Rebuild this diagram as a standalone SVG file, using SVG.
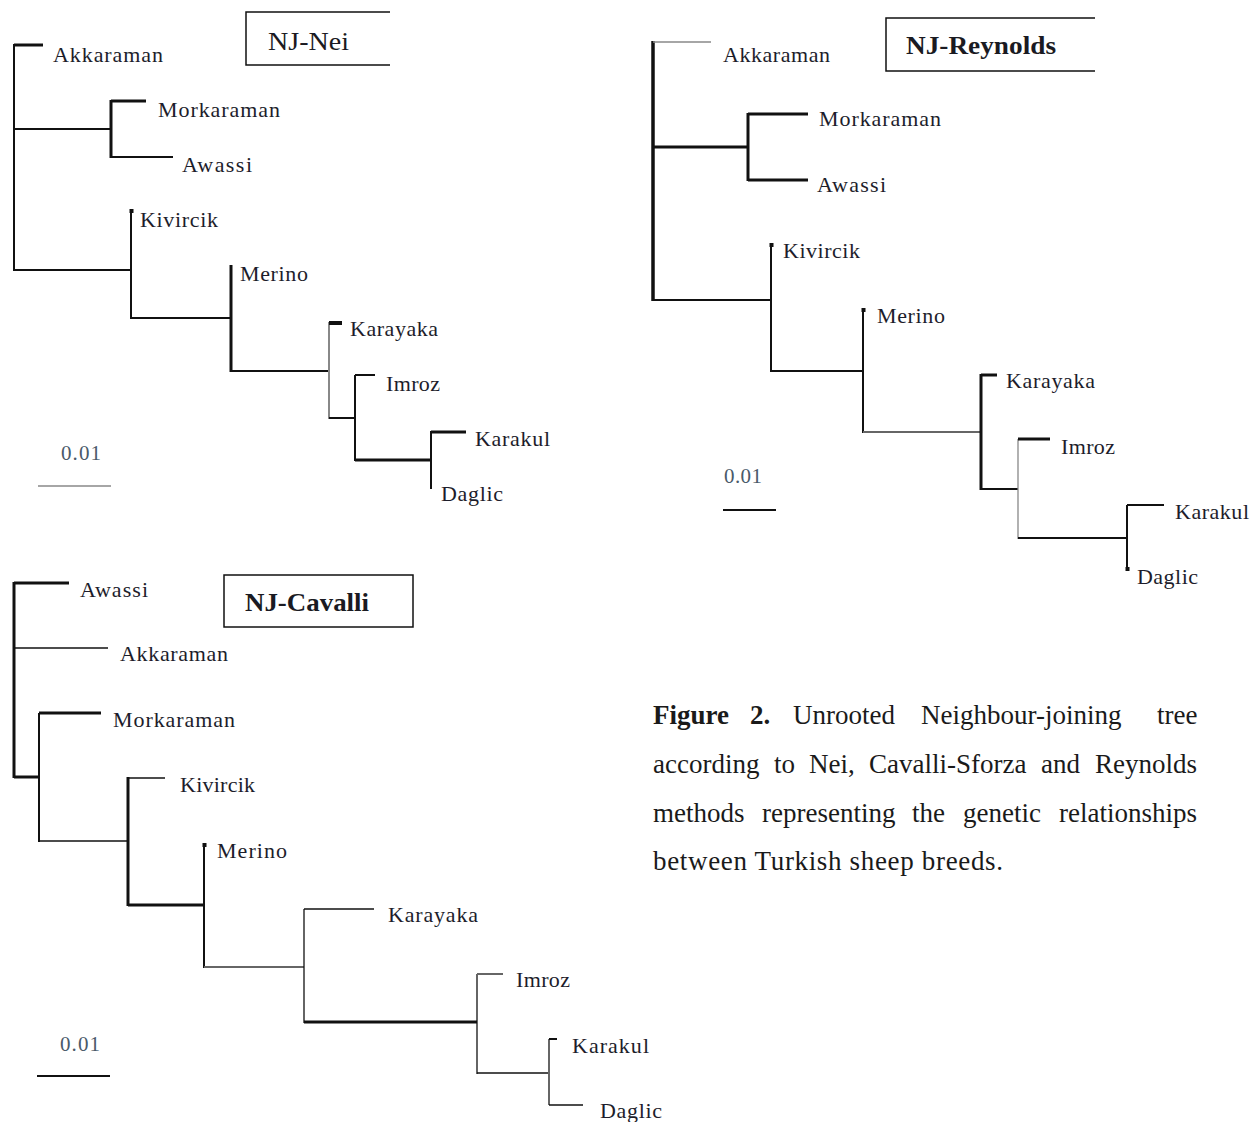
<svg xmlns="http://www.w3.org/2000/svg" width="1258" height="1122" viewBox="0 0 1258 1122">
<style>
.lbl{font-family:"Liberation Serif","Times New Roman",serif;font-size:22px;fill:#1d1d2b;}
.sc{font-family:"Liberation Serif","Times New Roman",serif;font-size:21px;fill:#4a5a6a;}
.ttl{font-family:"Liberation Serif","Times New Roman",serif;font-size:26px;fill:#1a1a22;}
.cap{font-family:"Liberation Serif","Times New Roman",serif;font-size:27px;fill:#1a1a1a;}
.box{fill:none;stroke:#111;stroke-width:1.5;}
.k{fill:none;stroke:#111;stroke-linecap:butt;}
.w1{stroke-width:1.3;}
.w2{stroke-width:2;}
.w3{stroke-width:3;}
.g{stroke:#888;}
.g2{stroke:#666;}
.dot{fill:#111;}
</style>
<rect width="1258" height="1122" fill="#fff"/>

<!-- ================= NJ-Nei ================= -->
<g id="connectors-nei">
<path class="k w2" d="M14,44 V271"/>
<path class="k w3" d="M14,45 H43"/>
<path class="k w2" d="M14,129 H111"/>
<path class="k w3" d="M111,100 V158"/>
<path class="k w3" d="M111,101 H146"/>
<path class="k w2" d="M111,157 H173"/>
<path class="k w2" d="M14,270 H131"/>
<path class="k w2" d="M131,211 V319"/>
<path class="k w2" d="M131,318 H231"/>
<path class="k w3" d="M231,265 V372"/>
<path class="k w2" d="M231,371 H329"/>
<path class="k w2 g" d="M329,322 V419"/>
<path class="k" d="M329,323 H342" style="stroke-width:4"/>
<path class="k w2" d="M329,418 H355"/>
<path class="k w2" d="M355,375 V461"/>
<path class="k w2" d="M355,375 H375"/>
<path class="k w3" d="M355,460 H431"/>
<path class="k w2" d="M431,431 V489"/>
<path class="k w3" d="M431,432 H466"/>
<path class="k w1 g" d="M38,486 H111"/>
<rect class="dot" x="129.5" y="209" width="4" height="4"/>
</g>
<g id="nei-title">
<path class="box" d="M390,12 H246 V65 H390"/>
<text class="ttl" x="268" y="50" textLength="81" lengthAdjust="spacingAndGlyphs">NJ-Nei</text>
</g>
<g id="nei-akkaraman"><text class="lbl" x="53" y="62" textLength="110">Akkaraman</text></g>
<g id="nei-morkaraman"><text class="lbl" x="158" y="117" textLength="122">Morkaraman</text></g>
<g id="nei-awassi"><text class="lbl" x="182" y="172" textLength="70">Awassi</text></g>
<g id="nei-kivircik"><text class="lbl" x="140" y="227" textLength="78">Kivircik</text></g>
<g id="nei-merino"><text class="lbl" x="240" y="281" textLength="68">Merino</text></g>
<g id="nei-karayaka"><text class="lbl" x="350" y="336" textLength="88">Karayaka</text></g>
<g id="nei-imroz"><text class="lbl" x="386" y="391" textLength="54">Imroz</text></g>
<g id="nei-karakul"><text class="lbl" x="475" y="446" textLength="75">Karakul</text></g>
<g id="nei-daglic"><text class="lbl" x="441" y="501" textLength="62">Daglic</text></g>
<g id="nei-scale"><text class="sc" x="61" y="460" textLength="40">0.01</text></g>

<!-- ================= NJ-Reynolds ================= -->
<g id="connectors-reynolds">
<path class="k" d="M653,41 V301" style="stroke-width:3.5"/>
<path class="k w1 g" d="M653,42 H711"/>
<path class="k w3" d="M653,147 H748"/>
<path class="k w3" d="M748,113 V181"/>
<path class="k w3" d="M748,114 H808"/>
<path class="k w3" d="M748,180 H808"/>
<path class="k w2" d="M653,300 H771"/>
<path class="k w2" d="M771,245 V372"/>
<path class="k w2" d="M771,371 H863"/>
<path class="k w2" d="M863,310 V433"/>
<path class="k w2 g2" d="M863,432 H981"/>
<path class="k w3" d="M981,374 V490"/>
<path class="k w3" d="M981,375 H997"/>
<path class="k w2" d="M981,489 H1018"/>
<path class="k w1 g" d="M1018,439 V539"/>
<path class="k w3" d="M1018,439 H1050"/>
<path class="k w2" d="M1018,538 H1127"/>
<path class="k w2" d="M1127,505 V570"/>
<path class="k w2" d="M1127,505 H1164"/>
<path class="k w2" d="M723,510 H776"/>
<rect class="dot" x="769.5" y="243" width="4" height="4"/>
<rect class="dot" x="861.5" y="308" width="4" height="4"/>
<rect class="dot" x="1125.5" y="567" width="4" height="4"/>
</g>
<g id="reynolds-title">
<path class="box" d="M1095,18 H886 V71 H1095"/>
<text class="ttl" x="906" y="54" textLength="150" lengthAdjust="spacingAndGlyphs" font-weight="bold">NJ-Reynolds</text>
</g>
<g id="rey-akkaraman"><text class="lbl" x="723" y="62" textLength="107">Akkaraman</text></g>
<g id="rey-morkaraman"><text class="lbl" x="819" y="126" textLength="122">Morkaraman</text></g>
<g id="rey-awassi"><text class="lbl" x="817" y="192" textLength="69">Awassi</text></g>
<g id="rey-kivircik"><text class="lbl" x="783" y="258" textLength="77">Kivircik</text></g>
<g id="rey-merino"><text class="lbl" x="877" y="323" textLength="68">Merino</text></g>
<g id="rey-karayaka"><text class="lbl" x="1006" y="388" textLength="89">Karayaka</text></g>
<g id="rey-imroz"><text class="lbl" x="1061" y="454" textLength="54">Imroz</text></g>
<g id="rey-karakul"><text class="lbl" x="1175" y="519" textLength="74">Karakul</text></g>
<g id="rey-daglic"><text class="lbl" x="1137" y="584" textLength="61">Daglic</text></g>
<g id="rey-scale"><text class="sc" x="724" y="483" textLength="38">0.01</text></g>

<!-- ================= NJ-Cavalli ================= -->
<g id="connectors-cavalli">
<path class="k w3" d="M14,582 V778"/>
<path class="k w3" d="M14,583 H69"/>
<path class="k w1" d="M14,648 H108"/>
<path class="k w3" d="M14,777 H39"/>
<path class="k w2" d="M39,713 V842"/>
<path class="k w3" d="M39,713 H101"/>
<path class="k w1" d="M39,841 H128"/>
<path class="k w3" d="M128,777 V906"/>
<path class="k w1" d="M128,778 H165"/>
<path class="k w3" d="M128,905 H204"/>
<path class="k w2" d="M204,845 V968"/>
<path class="k w2 g2" d="M204,967 H304"/>
<path class="k w1" d="M304,909 V1023"/>
<path class="k w1" d="M304,909 H374"/>
<path class="k w3" d="M304,1022 H477"/>
<path class="k w1" d="M477,974 V1074"/>
<path class="k w2 g2" d="M477,974 H503"/>
<path class="k w1" d="M477,1073 H549"/>
<path class="k w2 g2" d="M549,1039 V1105"/>
<path class="k w2" d="M549,1039 H557"/>
<path class="k w1" d="M549,1105 H583"/>
<path class="k w2" d="M37,1076 H110"/>
<rect class="dot" x="202.5" y="843" width="4" height="4"/>
</g>
<g id="cavalli-title">
<rect class="box" x="224" y="575" width="189" height="52"/>
<text class="ttl" x="245" y="611" textLength="124" lengthAdjust="spacingAndGlyphs" font-weight="bold">NJ-Cavalli</text>
</g>
<g id="cav-awassi"><text class="lbl" x="80" y="597" textLength="68">Awassi</text></g>
<g id="cav-akkaraman"><text class="lbl" x="120" y="661" textLength="108">Akkaraman</text></g>
<g id="cav-morkaraman"><text class="lbl" x="113" y="727" textLength="122">Morkaraman</text></g>
<g id="cav-kivircik"><text class="lbl" x="180" y="792" textLength="75">Kivircik</text></g>
<g id="cav-merino"><text class="lbl" x="217" y="858" textLength="70">Merino</text></g>
<g id="cav-karayaka"><text class="lbl" x="388" y="922" textLength="90">Karayaka</text></g>
<g id="cav-imroz"><text class="lbl" x="516" y="987" textLength="54">Imroz</text></g>
<g id="cav-karakul"><text class="lbl" x="572" y="1053" textLength="77">Karakul</text></g>
<g id="cav-daglic"><text class="lbl" x="600" y="1118" textLength="62">Daglic</text></g>
<g id="cav-scale"><text class="sc" x="60" y="1051" textLength="40">0.01</text></g>

<!-- ================= Caption ================= -->
<g id="caption">
<text class="cap" y="724"><tspan x="653" font-weight="bold">Figure</tspan><tspan x="750" font-weight="bold">2.</tspan><tspan x="793">Unrooted</tspan><tspan x="921">Neighbour-joining</tspan><tspan x="1157">tree</tspan></text>
<text class="cap" y="773"><tspan x="653">according</tspan><tspan x="774">to</tspan><tspan x="809">Nei,</tspan><tspan x="869">Cavalli-Sforza</tspan><tspan x="1041">and</tspan><tspan x="1095">Reynolds</tspan></text>
<text class="cap" y="822"><tspan x="653">methods</tspan><tspan x="762">representing</tspan><tspan x="912">the</tspan><tspan x="963">genetic</tspan><tspan x="1059">relationships</tspan></text>
<text class="cap" x="653" y="870" textLength="350">between Turkish sheep breeds.</text>
</g>
</svg>
